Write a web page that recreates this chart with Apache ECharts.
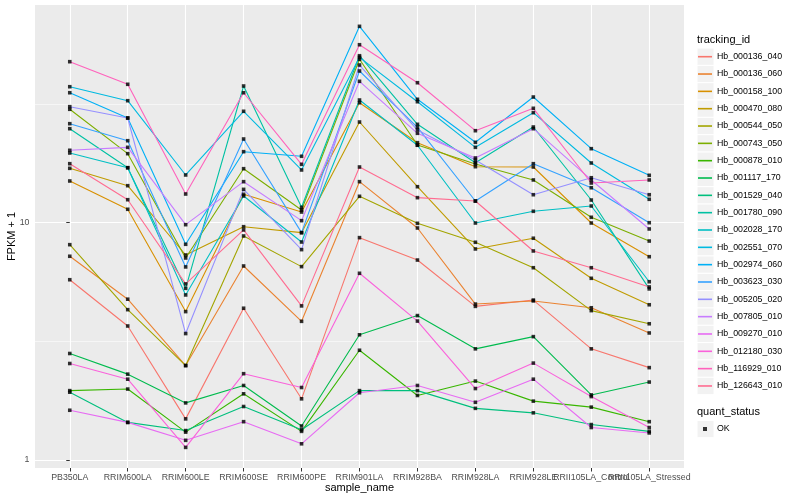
<!DOCTYPE html>
<html><head><meta charset="utf-8">
<script src="https://cdn.jsdelivr.net/npm/echarts@6/dist/echarts.min.js"></script>
<style>html,body{margin:0;padding:0;background:#fff}#c{width:800px;height:500px}</style>
</head><body><div id="c"></div>
<script>
// ---- data (FPKM + 1) ----
const categories = ["PB350LA","RRIM600LA","RRIM600LE","RRIM600SE","RRIM600PE","RRIM901LA","RRIM928BA","RRIM928LA","RRIM928LE","RRII105LA_Control","RRII105LA_Stressed"];
const trackingIds = ["Hb_000136_040","Hb_000136_060","Hb_000158_100","Hb_000470_080","Hb_000544_050","Hb_000743_050","Hb_000878_010","Hb_001117_170","Hb_001529_040","Hb_001780_090","Hb_002028_170","Hb_002551_070","Hb_002974_060","Hb_003623_030","Hb_005205_020","Hb_007805_010","Hb_009270_010","Hb_012180_030","Hb_116929_010","Hb_126643_010"];
const Hb_000136_040 = [5.75, 3.67, 1.49, 4.36, 1.81, 8.65, 6.96, 4.44, 4.72, 2.94, 2.45];
const Hb_000136_060 = [7.22, 4.76, 2.50, 6.57, 3.84, 14.89, 9.50, 4.54, 4.68, 4.38, 3.43];
const Hb_000158_100 = [14.99, 11.39, 4.22, 13.17, 11.09, 32.04, 21.74, 17.22, 17.17, 9.97, 7.19];
const Hb_000470_080 = [16.95, 14.32, 7.31, 9.62, 9.08, 26.57, 14.18, 7.75, 8.60, 5.83, 4.51];
const Hb_000544_050 = [8.08, 4.30, 2.50, 8.79, 6.53, 12.92, 9.94, 8.27, 6.46, 4.26, 3.75];
const Hb_000743_050 = [30.06, 19.54, 7.10, 16.89, 11.31, 48.82, 21.26, 17.68, 15.14, 10.54, 8.37];
const Hb_000878_010 = [1.96, 1.99, 1.31, 1.90, 1.32, 2.90, 1.87, 2.15, 1.77, 1.67, 1.45];
const Hb_001117_170 = [2.81, 2.30, 1.74, 2.06, 1.39, 3.37, 4.06, 2.94, 3.31, 1.88, 2.13];
const Hb_001529_040 = [1.93, 1.44, 1.33, 1.68, 1.34, 1.96, 1.96, 1.65, 1.58, 1.41, 1.32];
const Hb_001780_090 = [24.90, 17.05, 5.29, 37.68, 11.61, 50.55, 25.98, 17.90, 25.31, 12.46, 5.26];
const Hb_002028_170 = [19.67, 17.05, 4.96, 12.96, 8.29, 32.89, 21.20, 9.97, 11.17, 11.76, 5.64];
const Hb_002551_070 = [37.42, 32.67, 15.89, 29.48, 16.68, 49.77, 32.35, 20.78, 29.08, 17.85, 12.55];
const Hb_002974_060 = [35.30, 27.62, 8.11, 19.92, 19.05, 67.23, 33.12, 21.82, 33.86, 20.51, 15.84];
const Hb_003623_030 = [26.14, 22.16, 6.51, 22.53, 9.08, 43.59, 25.24, 12.34, 17.73, 14.04, 10.00];
const Hb_005205_020 = [30.83, 27.62, 3.41, 13.82, 7.70, 46.19, 24.58, 18.38, 13.12, 15.47, 13.12];
const Hb_007805_010 = [20.19, 20.78, 9.81, 14.89, 10.20, 39.44, 23.81, 18.74, 24.90, 15.14, 9.41];
const Hb_009270_010 = [1.62, 1.44, 1.21, 1.45, 1.17, 1.92, 2.06, 1.75, 2.19, 1.37, 1.30];
const Hb_012180_030 = [2.55, 2.19, 1.13, 2.31, 2.02, 6.12, 3.85, 2.00, 2.56, 1.85, 1.37];
const Hb_116929_010 = [47.71, 38.31, 13.21, 35.30, 17.62, 56.25, 38.90, 24.42, 30.35, 14.70, 15.14];
const Hb_126643_010 = [17.73, 12.50, 5.52, 9.32, 4.46, 17.17, 12.75, 12.34, 7.60, 6.46, 5.36];
const seriesValues = [Hb_000136_040, Hb_000136_060, Hb_000158_100, Hb_000470_080, Hb_000544_050, Hb_000743_050, Hb_000878_010, Hb_001117_170, Hb_001529_040, Hb_001780_090, Hb_002028_170, Hb_002551_070, Hb_002974_060, Hb_003623_030, Hb_005205_020, Hb_007805_010, Hb_009270_010, Hb_012180_030, Hb_116929_010, Hb_126643_010];
const quantStatus = "OK";
const yTickValues = [1, 10];
const yMinorValues = [3.1623, 31.623];

// ---- styling ----
const palette = ["#F8766D","#EA8331","#D89000","#C09B00","#A3A500","#7CAE00","#39B600","#00BB4E","#00BF7D","#00C1A3","#00BFC4","#00BAE0","#00B0F6","#35A2FF","#9590FF","#C77CFF","#E76BF3","#FA62DB","#FF62BC","#FF6C91"];
const FONT = "Liberation Sans, Arial, sans-serif";
const catIdx = categories.map((c, i) => i);
const evenIdx = catIdx.filter(i => i % 2 === 0);
const oddIdx = catIdx.filter(i => i % 2 === 1);

const lineSeries = trackingIds.map((id, k) => ({
  name: id, type: 'line', xAxisIndex: 0, yAxisIndex: 0,
  data: seriesValues[k].map((v, i) => [i, v]),
  showSymbol: false, symbol: 'none',
  lineStyle: { color: palette[k], width: 1.1 },
  itemStyle: { color: palette[k] },
  emphasis: { disabled: true }, silent: true, z: 2
}));
const pointData = [];
seriesValues.forEach(arr => arr.forEach((v, i) => pointData.push([i, v])));
const pointSeries = {
  name: quantStatus, type: 'scatter', xAxisIndex: 0, yAxisIndex: 0, data: pointData,
  symbol: 'rect', symbolSize: 3.6, itemStyle: { color: '#000' },
  emphasis: { disabled: true }, silent: true, z: 5
};

const keyTop = 48.03, keyStep = 17.33;
const graphics = trackingIds.map((id, k) => ({
  type: 'rect', z: 1,
  shape: { x: 697, y: keyTop + k * keyStep, width: 17, height: keyStep },
  style: { fill: '#F2F2F2', stroke: '#FFFFFF', lineWidth: 1 }
}));
graphics.push({ type: 'rect', z: 1, shape: { x: 697, y: 420.4, width: 17, height: 17.3 }, style: { fill: '#F2F2F2', stroke: '#FFFFFF', lineWidth: 1 } });

const labelStyle = { fontSize: 8.8, color: '#4D4D4D', margin: 5, fontFamily: FONT, hideOverlap: false, showMinLabel: true, showMaxLabel: true, formatter: v => categories[Math.round(v)] };

const option = {
  animation: false,
  backgroundColor: '#FFFFFF',
  textStyle: { fontFamily: FONT },
  title: [
    { text: 'tracking_id', left: 697, top: 34, padding: 0, textStyle: { fontSize: 11, fontWeight: 'normal', color: '#000', fontFamily: FONT } },
    { text: 'quant_status', left: 697, top: 406, padding: 0, textStyle: { fontSize: 11, fontWeight: 'normal', color: '#000', fontFamily: FONT } }
  ],
  grid: { left: 35, right: 116, top: 5, bottom: 32, show: true, backgroundColor: '#EBEBEB', borderWidth: 0, containLabel: false, outerBoundsMode: 'none' },
  xAxis: [
    {
      type: 'value', min: -0.6, max: 10.6, position: 'bottom',
      name: 'sample_name', nameLocation: 'middle', nameGap: 14, nameMoveOverlap: false,
      nameTextStyle: { fontSize: 11, color: '#000', fontFamily: FONT },
      axisLine: { show: false },
      axisTick: { show: true, length: 3.5, customValues: catIdx, lineStyle: { color: '#333333', width: 1 } },
      axisLabel: Object.assign({ customValues: evenIdx }, labelStyle),
      splitLine: { show: true, lineStyle: { color: '#FFFFFF', width: 1.1 } }
    },
    {
      type: 'value', min: -0.6, max: 10.6, position: 'bottom', offset: 0,
      axisLine: { show: false },
      axisTick: { show: false, customValues: oddIdx },
      axisLabel: Object.assign({ customValues: oddIdx }, labelStyle),
      splitLine: { show: false }
    }
  ],
  yAxis: [
    {
      type: 'log', logBase: 10, min: 0.925, max: 82.7,
      name: 'FPKM + 1', nameLocation: 'middle', nameGap: 18, nameRotate: 90, nameMoveOverlap: false,
      nameTextStyle: { fontSize: 11, color: '#000', fontFamily: FONT },
      axisLine: { show: false },
      axisTick: { show: true, length: 3.5, customValues: yTickValues, lineStyle: { color: '#333333', width: 1 } },
      axisLabel: { customValues: yTickValues, fontSize: 8.8, color: '#4D4D4D', margin: 5.5, fontFamily: FONT, showMinLabel: true, showMaxLabel: true },
      splitLine: { show: true, lineStyle: { color: '#FFFFFF', width: 1.1 } }
    },
    {
      type: 'log', logBase: 10, min: 0.925, max: 82.7, gridIndex: 0, position: 'left',
      axisLine: { show: false }, axisLabel: { show: false },
      axisTick: { show: false, customValues: yMinorValues },
      splitLine: { show: true, lineStyle: { color: '#FFFFFF', width: 0.55 } }
    }
  ],
  legend: [
    {
      orient: 'vertical', left: 698, top: 50.7, padding: 0, itemGap: 5.33,
      itemWidth: 14, itemHeight: 1.6, selectedMode: false,
      textStyle: { fontSize: 8.8, lineHeight: 12, color: '#000', fontFamily: FONT },
      data: trackingIds.map((id, k) => ({ name: id, icon: 'rect', itemStyle: { color: palette[k] } }))
    },
    {
      orient: 'vertical', left: 703, top: 423, padding: 0, itemWidth: 4, itemHeight: 4, selectedMode: false,
      textStyle: { fontSize: 8.8, lineHeight: 12, color: '#000', fontFamily: FONT, padding: [0, 0, 0, 5] },
      data: [{ name: quantStatus, icon: 'rect', itemStyle: { color: '#000' } }]
    }
  ],
  graphic: graphics,
  series: lineSeries.concat([pointSeries])
};
const chart = echarts.init(document.getElementById('c'), null, { renderer: 'canvas' });
chart.setOption(option);
</script></body></html>
